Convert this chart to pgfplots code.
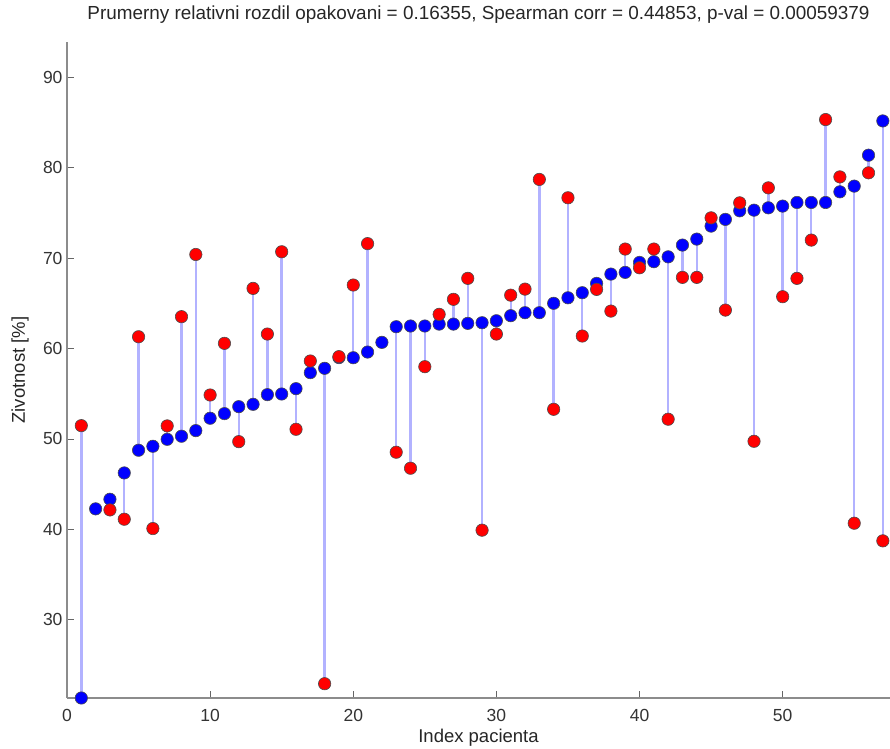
\documentclass[border=0pt]{standalone}
\usepackage{fontspec}
\setmainfont{Liberation Sans}
\usepackage{pgfplots}
\usepackage{pgfplotstable}
\pgfplotsset{compat=1.18}
\definecolor{stemc}{RGB}{178,178,255}
\definecolor{axgray}{RGB}{140,140,140}
\pgfplotstableread{
x b r
1 21.35 51.47
2 42.27 nan
3 43.33 42.15
4 46.24 41.12
5 48.75 61.30
6 49.19 40.09
7 49.96 51.44
8 50.30 63.52
9 50.92 70.40
10 52.29 54.86
11 52.80 60.57
12 53.57 49.70
13 53.83 66.65
14 54.90 61.60
15 54.97 70.70
16 55.56 51.07
17 57.33 58.62
18 57.81 22.93
19 59.00 59.10
20 58.98 67.02
21 59.61 71.60
22 60.68 nan
23 62.41 48.53
24 62.49 46.76
25 62.49 57.99
26 62.70 63.78
27 62.70 65.44
28 62.78 67.76
29 62.85 39.91
30 63.07 61.60
31 63.63 65.90
32 63.96 66.57
33 63.96 78.70
34 65.00 53.28
35 65.61 76.67
36 66.17 61.38
37 67.20 66.54
38 68.23 64.14
39 68.42 71.00
40 69.52 68.93
41 69.60 71.00
42 70.14 52.18
43 71.44 67.87
44 72.10 67.87
45 73.54 74.45
46 74.28 64.25
47 75.23 76.11
48 75.30 49.74
49 75.56 77.77
50 75.75 65.73
51 76.15 67.76
52 76.15 71.99
53 76.15 85.32
54 77.33 78.98
55 77.96 40.68
56 81.38 79.43
57 85.17 38.73
}\data
\begin{document}
\begin{tikzpicture}
\begin{axis}[
  scale only axis,
  width=823pt, height=656pt,
  xmin=0, xmax=57.5,
  ymin=21.35, ymax=93.9,
  axis lines*=left,
  axis line style={axgray, line width=1.2pt},
  tick align=inside,
  tick pos=left,
  major tick length=7pt,
  tick style={black!60, line width=0.8pt},
  xtick={0,10,20,30,40,50},
  ytick={30,40,50,60,70,80,90},
  tick label style={font=\fontsize{17.5}{17.5}\selectfont, text=black!80},
  /pgf/number format/assume math mode=true,
  xticklabel style={anchor=base, yshift=-24pt},
  yticklabel style={anchor=east, xshift=-1pt},
  title={Prumerny relativni rozdil opakovani = 0.16355, Spearman corr = 0.44853, p-val = 0.00059379},
  title style={at={(axis description cs:0.5,1.025)}, anchor=base, font=\fontsize{18.9}{18.9}\selectfont, text=black!85},
  xlabel={Index pacienta},
  xlabel style={at={(axis description cs:0.5,-0.0671)}, anchor=base, font=\fontsize{18.5}{18.5}\selectfont, text=black!85},
  ylabel={Zivotnost [\%]},
  ylabel style={at={(axis description cs:-0.0571,0.5)}, anchor=center, font=\fontsize{18.5}{18.5}\selectfont, text=black!85},
]
\addplot[draw=none, mark=none, forget plot,
  error bars/.cd, y dir=both, y explicit,
  error mark=none,
  error bar style={draw=stemc, line width=2.4pt}]
  table[x=x, y=r,
    y error plus expr={max(\thisrow{b}-\thisrow{r},0)},
    y error minus expr={max(\thisrow{r}-\thisrow{b},0)}] {\data};
\addplot[only marks, mark=*, mark size=6.2pt,
  mark options={fill=blue, draw=black!70, line width=0.6pt}]
  table[x=x, y=b] {\data};
\addplot[only marks, mark=*, mark size=6.2pt,
  mark options={fill=red, draw=black!70, line width=0.6pt}]
  table[x=x, y=r] {\data};
\end{axis}
\path (current axis.south west) +(-67pt,-51pt) coordinate (bbA);
\path (current axis.north east) +(0pt,42pt) coordinate (bbB);
\pgfresetboundingbox
\path (bbA) rectangle (bbB);
\end{tikzpicture}
\end{document}
